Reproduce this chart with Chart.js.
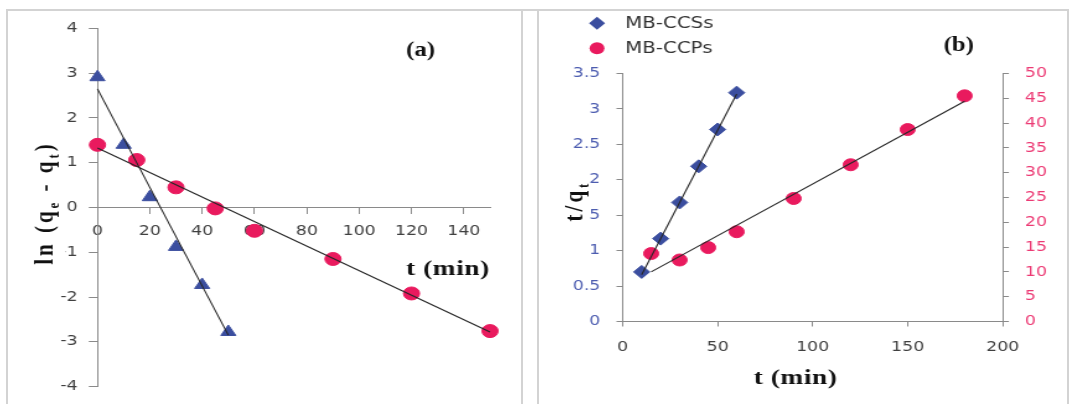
<!DOCTYPE html>
<html>
<head>
<meta charset="utf-8">
<title>Adsorption kinetics</title>
<script src="https://cdn.jsdelivr.net/npm/chart.js@4.4.1/dist/chart.umd.min.js"></script>
<style>
  html, body { margin: 0; padding: 0; background: #fff; }
  #wrap { position: relative; width: 1069px; height: 404px; overflow: hidden; background: #fff; }
  .rule { position: absolute; background: #d3d3d3; }
  canvas { position: absolute; top: 11px; }
</style>
</head>
<body>
<div id="wrap">
  <div class="rule" style="left:6px;top:9px;width:1063px;height:2px"></div>
  <div class="rule" style="left:6px;top:9px;width:2px;height:395px"></div>
  <div class="rule" style="left:521px;top:9px;width:2px;height:395px"></div>
  <div class="rule" style="left:537px;top:9px;width:2px;height:395px"></div>
  <div class="rule" style="left:1067px;top:9px;width:2px;height:395px"></div>
  <!-- both plots are drawn narrow and widened by css -->
  <canvas id="chartA" width="414" height="393" style="left:8px;width:513px;height:393px"></canvas>
  <canvas id="chartB" width="426" height="393" style="left:539px;width:528px;height:393px"></canvas>
</div>
<script>
// (a) pseudo-first-order: ln(qe - qt) vs t
const timeA_ccs = [0, 10, 20, 30, 40, 50];
const lnA_ccs = [2.91, 1.40, 0.23, -0.88, -1.73, -2.78];
const timeA_ccp = [0, 15, 30, 45, 60, 90, 120, 150];
const lnA_ccp = [1.40, 1.06, 0.45, -0.02, -0.52, -1.15, -1.92, -2.76];
const fitTimeA_ccs = [0, 50];
const fitLnA_ccs = [2.65, -2.85];
const fitTimeA_ccp = [0, 150];
const fitLnA_ccp = [1.33, -2.78];
const ticksA_x = [0, 20, 40, 60, 80, 100, 120, 140];
const ticksA_y = [-4, -3, -2, -1, 0, 1, 2, 3, 4];

// (b) pseudo-second-order: t/qt vs t
const timeB_ccs = [10, 20, 30, 40, 50, 60];
const ratioB_ccs = [0.70, 1.17, 1.68, 2.19, 2.71, 3.23];
const timeB_ccp = [15, 30, 45, 60, 90, 120, 150, 180];
const ratioB_ccp = [13.7, 12.4, 14.9, 18.1, 24.8, 31.6, 38.7, 45.5];
const fitTimeB_ccs = [10, 60];
const fitRatioB_ccs = [0.66, 3.21];
const fitTimeB_ccp = [15, 180];
const fitRatioB_ccp = [10.0, 44.4];
const ticksB_x = [0, 50, 100, 150, 200];
const ticksB_y = [0, 0.5, 1, 1.5, 2, 2.5, 3, 3.5];
const ticksB_y1 = [0, 5, 10, 15, 20, 25, 30, 35, 40, 45, 50];

const seriesNames = ['MB-CCSs', 'MB-CCPs'];

const BLUE = '#3b4e9f';
const PINK = '#e91a5e';
const AXIS = '#8a8a8a';
const INK = '#404040';
const FIT = '#262626';
const TICK_FONT = { family: 'DejaVu Sans', size: 14 };

function pts(xs, ys) {
  return xs.map((x, i) => ({ x: x, y: ys[i] }));
}

// o.size fixes the room the axis takes next to the plot area
function scaleOpts(o) {
  return {
    type: 'linear',
    position: o.position,
    min: o.min,
    max: o.max,
    afterFit: s => { if (s.isHorizontal()) s.height = o.size || 0; else s.width = o.size || 0; },
    afterBuildTicks: s => { s.ticks = o.ticks.map(v => ({ value: v })); },
    grid: { drawOnChartArea: false, drawTicks: true, tickLength: o.tick, tickColor: AXIS, tickWidth: 1 },
    border: { display: true, color: AXIS, width: 1 },
    ticks: { autoSkip: false, maxRotation: 0, padding: o.pad, color: o.color || INK, font: TICK_FONT,
             callback: v => String(v) }
  };
}

function fitLine(data, yAxisID) {
  return { type: 'line', data: data, yAxisID: yAxisID || 'y', borderColor: FIT, borderWidth: 1.1,
           pointRadius: 0, tension: 0, fill: false, clip: false, order: 0 };
}

function markers(label, data, style, r, color, yAxisID) {
  return { label: label, data: data, yAxisID: yAxisID || 'y', pointStyle: style, pointRadius: r,
           backgroundColor: color, borderColor: color, borderWidth: 1, clip: false, order: 1 };
}

// bold serif title made of runs; a run flagged 1 is set as a subscript
function richTitle(ctx, runs, x, y, size, opt) {
  opt = opt || {};
  ctx.save();
  ctx.translate(x, y);
  if (opt.rotate) ctx.rotate(-Math.PI / 2);
  if ('letterSpacing' in ctx) ctx.letterSpacing = (opt.spacing || 0) + 'px';
  const sub = Math.round(size * 0.62);
  const font = r => 'bold ' + (r[1] ? sub : size) + 'px "Liberation Serif", "Times New Roman", serif';
  const widths = runs.map(r => { ctx.font = font(r); return ctx.measureText(r[0]).width; });
  const total = widths.reduce((a, b) => a + b, 0);
  if (opt.clear) {
    ctx.fillStyle = '#fff';
    ctx.fillRect(-total / 2 - 2, opt.clear[0], total + 4, opt.clear[1] - opt.clear[0]);
  }
  ctx.fillStyle = '#111';
  ctx.textAlign = 'left';
  ctx.textBaseline = 'alphabetic';
  let cx = -total / 2;
  runs.forEach((r, i) => {
    ctx.font = font(r);
    ctx.fillText(r[0], cx, size * 0.24 + (r[1] ? size * 0.22 : 0));
    cx += widths[i];
  });
  ctx.restore();
}

const labelsA = {
  id: 'labelsA',
  afterDraw(chart) {
    const ctx = chart.ctx;
    richTitle(ctx, [['ln (q', 0], ['e', 1], [' - q', 0], ['t', 1], [')', 0]], 31, 192, 21,
              { rotate: true, spacing: 3, clear: [-11, 15.5] });
    richTitle(ctx, [['t (min)', 0]], 355, 259, 22, { spacing: 0.5 });
    richTitle(ctx, [['(a)', 0]], 333, 40, 20);
  }
};

const labelsB = {
  id: 'labelsB',
  afterDraw(chart) {
    const ctx = chart.ctx;
    richTitle(ctx, [['t/q', 0], ['t', 1]], 30.4, 190, 21, { rotate: true, spacing: 3, clear: [-11, 10] });
    richTitle(ctx, [['t (min)', 0]], 207, 368, 22, { spacing: 0.5 });
    richTitle(ctx, [['(b)', 0]], 338.6, 35, 20);

    // legend, one entry per row
    const rows = [
      { name: seriesNames[0], color: BLUE, diamond: true, y: 12.3 },
      { name: seriesNames[1], color: PINK, diamond: false, y: 37.3 }
    ];
    ctx.save();
    rows.forEach(row => {
      ctx.fillStyle = row.color;
      ctx.beginPath();
      if (row.diamond) {
        ctx.moveTo(46.8, row.y - 6.5);
        ctx.lineTo(46.8 + 6.5, row.y);
        ctx.lineTo(46.8, row.y + 6.5);
        ctx.lineTo(46.8 - 6.5, row.y);
        ctx.closePath();
      } else {
        ctx.arc(46.8, row.y, 6, 0, Math.PI * 2);
      }
      ctx.fill();
      ctx.fillStyle = '#333';
      ctx.font = '16px "DejaVu Sans"';
      ctx.textAlign = 'left';
      ctx.textBaseline = 'middle';
      ctx.fillText(row.name, 69.4, row.y + 1);
    });
    ctx.restore();
  }
};

new Chart(document.getElementById('chartA'), {
  type: 'scatter',
  data: {
    datasets: [
      fitLine(pts(fitTimeA_ccs, fitLnA_ccs)),
      fitLine(pts(fitTimeA_ccp, fitLnA_ccp)),
      markers(seriesNames[0], pts(timeA_ccs, lnA_ccs), 'triangle', 7, BLUE),
      markers(seriesNames[1], pts(timeA_ccp, lnA_ccp), 'circle', 6.5, PINK)
    ]
  },
  options: {
    responsive: false,
    animation: false,
    devicePixelRatio: 1,
    layout: { padding: { left: 0, right: 25, top: 12.3, bottom: 17.3 } },
    plugins: { legend: { display: false }, tooltip: { enabled: false } },
    scales: {
      x: scaleOpts({ position: { y: 0 }, min: 0, max: 150, ticks: ticksA_x, tick: 6, pad: 9 }),
      y: scaleOpts({ position: 'left', min: -4, max: 4, ticks: ticksA_y, tick: 7, pad: 9, size: 72.2 })
    }
  },
  plugins: [labelsA]
});

new Chart(document.getElementById('chartB'), {
  type: 'scatter',
  data: {
    datasets: [
      fitLine(pts(fitTimeB_ccs, fitRatioB_ccs), 'y'),
      fitLine(pts(fitTimeB_ccp, fitRatioB_ccp), 'y1'),
      markers(seriesNames[0], pts(timeB_ccs, ratioB_ccs), 'rectRot', 6.5, BLUE, 'y'),
      markers(seriesNames[1], pts(timeB_ccp, ratioB_ccp), 'circle', 6, PINK, 'y1')
    ]
  },
  options: {
    responsive: false,
    animation: false,
    devicePixelRatio: 1,
    layout: { padding: { left: 0, right: 0, top: 62.5, bottom: 0 } },
    plugins: { legend: { display: false }, tooltip: { enabled: false } },
    scales: {
      x: scaleOpts({ position: 'bottom', min: 0, max: 200, ticks: ticksB_x, tick: 5, pad: 12, size: 82.5 }),
      y: scaleOpts({ position: 'left', min: 0, max: 3.5, ticks: ticksB_y, tick: 5, pad: 13, color: '#4d5db0', size: 67.5 }),
      y1: scaleOpts({ position: 'right', min: 0, max: 50, ticks: ticksB_y1, tick: 5, pad: 13, color: '#ec3a74', size: 51.9 })
    }
  },
  plugins: [labelsB]
});
</script>
</body>
</html>
